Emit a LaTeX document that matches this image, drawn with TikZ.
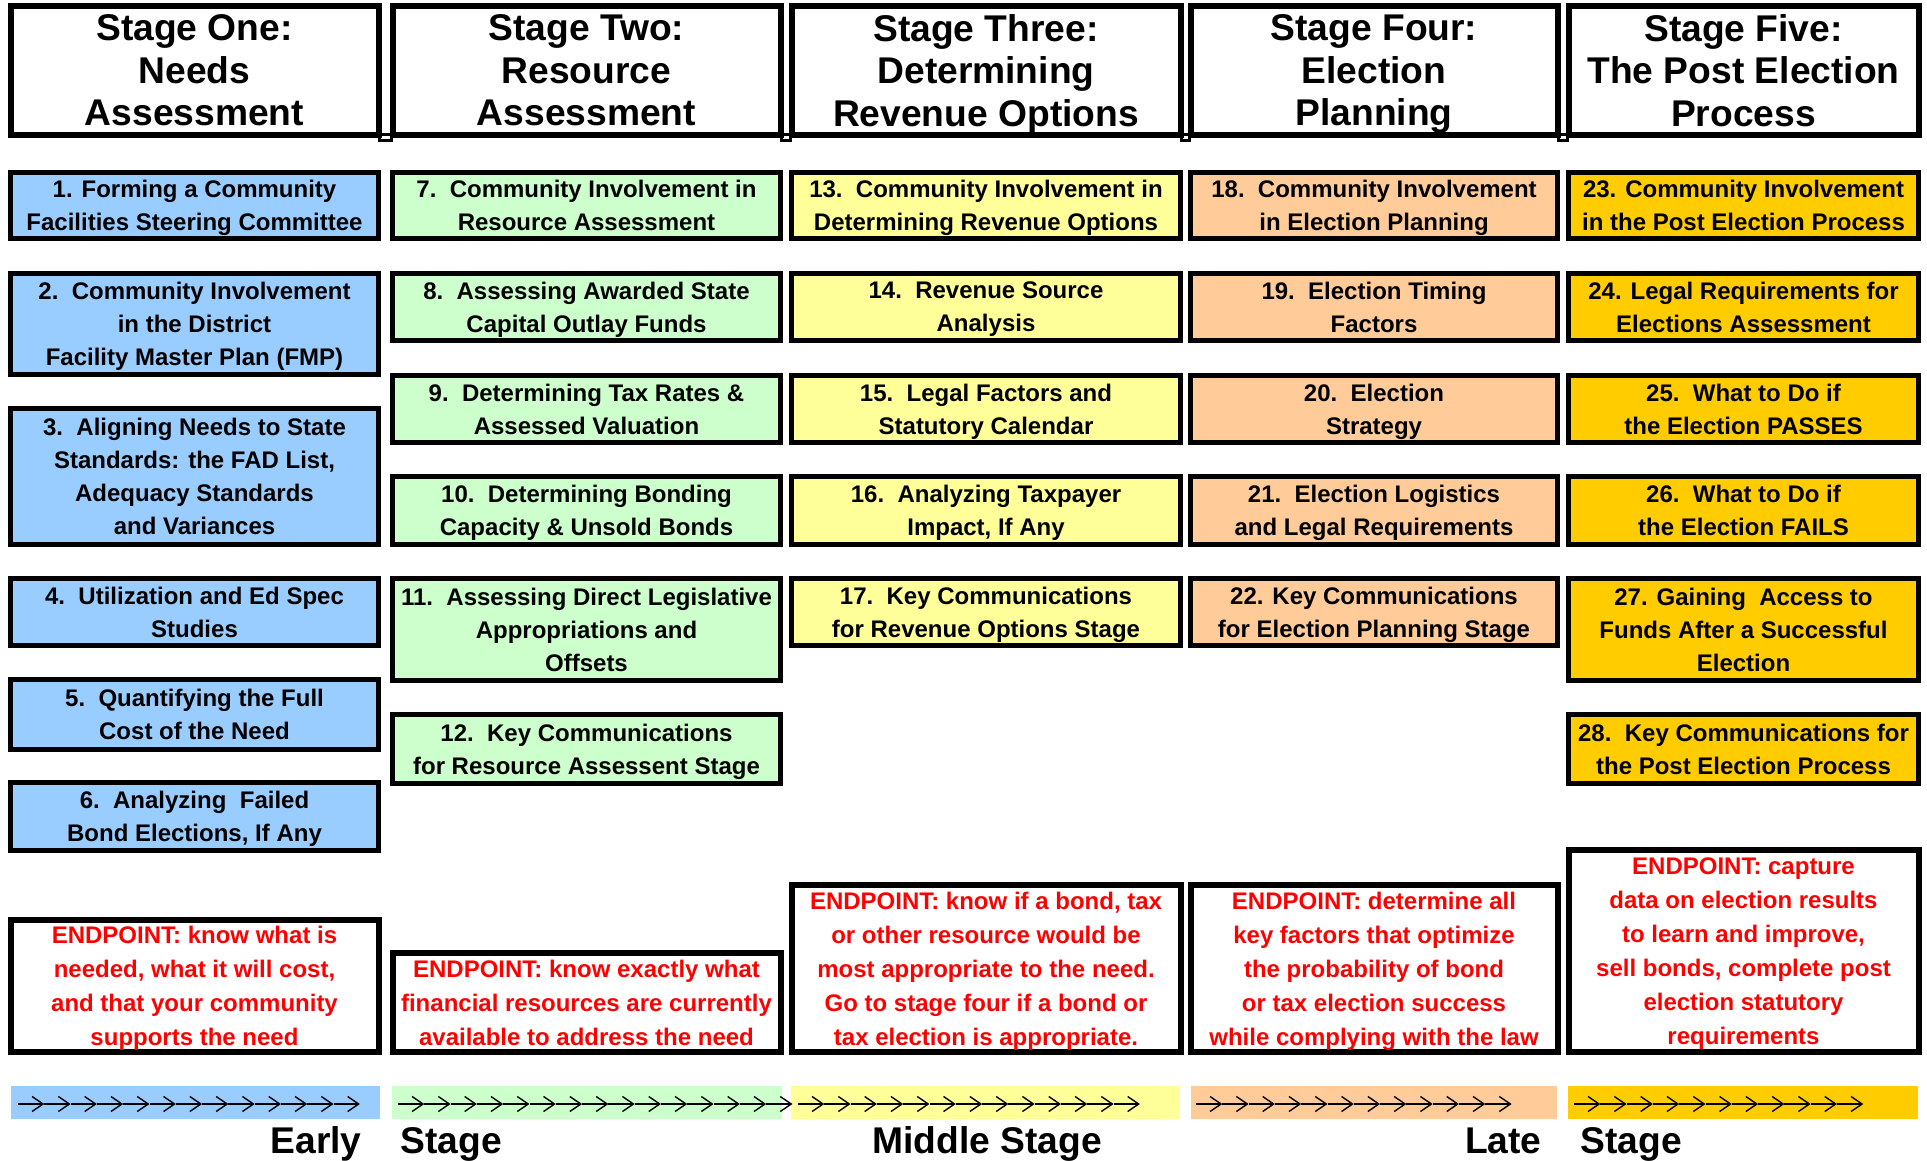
\documentclass[tikz,border=0pt]{standalone}
\usepackage{fontspec}
\setmainfont{Liberation Sans}
\usetikzlibrary{arrows.meta,positioning}

\definecolor{needblue}{HTML}{99CCFF}
\definecolor{resgreen}{HTML}{CCFFCC}
\definecolor{revyellow}{HTML}{FFFF99}
\definecolor{elecorange}{HTML}{FFCC99}
\definecolor{postgold}{HTML}{FFCC00}
\definecolor{endred}{HTML}{FF0000}

\begin{document}
\begin{tikzpicture}[
    x=0.5pt, y=-0.5pt,
    head/.style={draw, line width=3pt, fill=white, align=center, inner sep=0pt, text depth=0pt, minimum height=64.5pt, font=\fontsize{18.6}{21.25}\selectfont\bfseries},
    item/.style={draw, line width=2.5pt, align=center, inner sep=0pt, text depth=0pt, font=\fontsize{12}{16.5}\selectfont\bfseries},
    goal/.style={draw, line width=3pt, fill=white, align=center, inner sep=0pt, text depth=0pt, text=endred, font=\fontsize{12}{17}\selectfont\bfseries},
    c1/.style={minimum width=184pt},
    c2/.style={minimum width=194pt},
    c3/.style={minimum width=194.5pt},
    c4/.style={minimum width=183.5pt},
    c5/.style={minimum width=175pt},
    strip/.style={inner sep=0pt, minimum height=16.5pt},
    run/.style={-{Straight Barb[length=5.5pt,width=7.5pt]}, line width=0.7pt},
    joint/.style={draw, line width=1.5pt},
    phase/.style={inner sep=0pt, font=\fontsize{18.6}{21}\selectfont\bfseries}
]
\path[fill=white] (0,0) rectangle (1927,1160);

% stage headers
\node[head, c1] (st1) at (194.5,70.5) {Stage One:\\Needs\\Assessment};
\node[head, c2] (st2) at (586.5,70.5) {Stage Two:\\Resource\\Assessment};
\node[head, c3] (st3) at (986,70.5) {Stage Three:\\Determining\\Revenue Options};
\node[head, c4] (st4) at (1374,70.5) {Stage Four:\\Election\\Planning};
\node[head, c5] (st5) at (1743.5,70.5) {Stage Five:\\The Post Election\\Process};
\foreach \jl/\jr in {381/390, 783/789, 1183/1188, 1560/1566}
    \path[joint] (\jl-1.5,134.5) rectangle (\jr+1.5,140.5);

% stage one
\node[item, c1, fill=needblue, minimum height=33pt] (n1) at (194.5,205.5) {1. Forming a Community\\Facilities Steering Committee};
\node[item, c1, fill=needblue, minimum height=50.5pt] (n2) at (194.5,324) {2.~~Community Involvement\\in the District\\Facility Master Plan (FMP)};
\node[item, c1, fill=needblue, minimum height=68pt] (n3) at (194.5,476.5) {3.~~Aligning Needs to State\\Standards: the FAD List,\\Adequacy Standards\\and Variances};
\node[item, c1, fill=needblue, minimum height=33.5pt] (n4) at (194.5,612) {4.~~Utilization and Ed Spec\\Studies};
\node[item, c1, fill=needblue, minimum height=35pt] (n5) at (194.5,714.5) {5.~~Quantifying the Full\\Cost of the Need};
\node[item, c1, fill=needblue, minimum height=34pt] (n6) at (194.5,816.5) {6.~~Analyzing~~Failed\\Bond Elections, If Any};
\node[goal, c1, minimum height=66pt] (e1) at (194.5,986) {ENDPOINT: know what is\\needed, what it will cost,\\and that your community\\supports the need};

% stage two
\node[item, c2, fill=resgreen, minimum height=33pt] (n7) at (586.5,205.5) {7.~~Community Involvement in\\Resource Assessment};
\node[item, c2, fill=resgreen, minimum height=33.5pt] (n8) at (586.5,307) {8.~~Assessing Awarded State\\Capital Outlay Funds};
\node[item, c2, fill=resgreen, minimum height=33.5pt] (n9) at (586.5,409) {9.~~Determining Tax Rates \&\\Assessed Valuation};
\node[item, c2, fill=resgreen, minimum height=34pt] (n10) at (586.5,510.5) {10.~~Determining Bonding\\Capacity \& Unsold Bonds};
\node[item, c2, fill=resgreen, minimum height=51pt] (n11) at (586.5,629.5) {11.~~Assessing Direct Legislative\\Appropriations and\\Offsets};
\node[item, c2, fill=resgreen, minimum height=34.5pt] (n12) at (586.5,749) {12.~~Key Communications\\for Resource Assessent Stage};
\node[goal, c2, minimum height=49.5pt] (e2) at (586.5,1002.5) {ENDPOINT: know exactly what\\financial resources are currently\\available to address the need};

% stage three
\node[item, c3, fill=revyellow, minimum height=33pt] (n13) at (986,205.5) {13.~~Community Involvement in\\Determining Revenue Options};
\node[item, c3, fill=revyellow, minimum height=33.5pt] (n14) at (986,307) {14.~~Revenue Source\\Analysis};
\node[item, c3, fill=revyellow, minimum height=33.5pt] (n15) at (986,409) {15.~~Legal Factors and\\Statutory Calendar};
\node[item, c3, fill=revyellow, minimum height=34pt] (n16) at (986,510.5) {16.~~Analyzing Taxpayer\\Impact, If Any};
\node[item, c3, fill=revyellow, minimum height=33.5pt] (n17) at (986,612) {17.~~Key Communications\\for Revenue Options Stage};
\node[goal, c3, minimum height=83.5pt] (e3) at (986,968.5) {ENDPOINT: know if a bond, tax\\or other resource would be\\most appropriate to the need.\\Go to stage four if a bond or\\tax election is appropriate.};

% stage four
\node[item, c4, fill=elecorange, minimum height=33pt] (n18) at (1374,205.5) {18.~~Community Involvement\\in Election Planning};
\node[item, c4, fill=elecorange, minimum height=33.5pt] (n19) at (1374,307) {19.~~Election Timing\\Factors};
\node[item, c4, fill=elecorange, minimum height=33.5pt] (n20) at (1374,409) {20.~~Election\\Strategy};
\node[item, c4, fill=elecorange, minimum height=34pt] (n21) at (1374,510.5) {21.~~Election Logistics\\and Legal Requirements};
\node[item, c4, fill=elecorange, minimum height=33.5pt] (n22) at (1374,612) {22. Key Communications\\for Election Planning Stage};
\node[goal, c4, minimum height=83.5pt] (e4) at (1374,968.5) {ENDPOINT: determine all\\key factors that optimize\\the probability of bond\\or tax election success\\while complying with the law};

% stage five
\node[item, c5, fill=postgold, minimum height=33pt] (n23) at (1743.5,205.5) {23. Community Involvement\\in the Post Election Process};
\node[item, c5, fill=postgold, minimum height=33.5pt] (n24) at (1743.5,307) {24. Legal Requirements for\\Elections Assessment};
\node[item, c5, fill=postgold, minimum height=33.5pt] (n25) at (1743.5,409) {25.~~What to Do if\\the Election PASSES};
\node[item, c5, fill=postgold, minimum height=34pt] (n26) at (1743.5,510.5) {26.~~What to Do if\\the Election FAILS};
\node[item, c5, fill=postgold, minimum height=51pt] (n27) at (1743.5,629.5) {27. Gaining~~Access to\\Funds After a Successful\\Election};
\node[item, c5, fill=postgold, minimum height=34.5pt] (n28) at (1743.5,749) {28.~~Key Communications for\\the Post Election Process};
\node[goal, c5, minimum height=101pt] (e5) at (1743.5,951) {ENDPOINT: capture\\data on election results\\to learn and improve,\\sell bonds, complete post\\election statutory\\requirements};

% time bar
\node[strip, fill=needblue, minimum width=184.5pt] (s1) at (195.5,1102.5) {};
\node[strip, fill=resgreen, minimum width=195pt] (s2) at (587,1102.5) {};
\node[strip, fill=revyellow, minimum width=194.5pt] (s3) at (985.5,1102.5) {};
\node[strip, fill=elecorange, minimum width=183pt] (s4) at (1374,1102.5) {};
\node[strip, fill=postgold, minimum width=175pt] (s5) at (1743,1102.5) {};
\foreach \sx/\n in {18/13, 398/15, 798/13, 1196/12, 1574/11}
    \foreach \k in {1,...,\n}
        \draw[run] ({\sx+26.3*(\k-1)},1104) -- ++(26.3,0);

\node[phase, anchor=base east] (early) at (362,1153) {Early};
\node[phase, anchor=base west] (stage1) at (400,1153) {Stage};
\node[phase, anchor=base] (middle) at (987,1153) {Middle Stage};
\node[phase, anchor=base east] (late) at (1542,1153) {Late};
\node[phase, anchor=base west] (stage2) at (1580,1153) {Stage};
\end{tikzpicture}
\end{document}
